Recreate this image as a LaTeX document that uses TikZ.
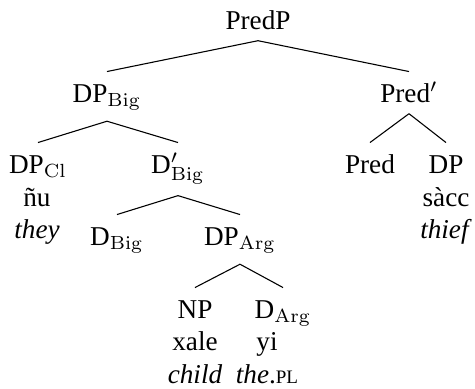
\documentclass[tikz,border=0pt]{standalone}
\usepackage[no-math]{fontspec}
\setmainfont{Liberation Serif}
\newcommand{\glosssc}[1]{{\fontsize{7}{8}\selectfont #1}}
\tikzset{
  cat/.style={anchor=base, inner sep=4pt, text height=7pt},
  word/.style={anchor=base, inner sep=0pt},
}
\begin{document}
\begin{tikzpicture}[x=0.3676pt, y=-0.3676pt]
  \useasboundingbox (0,0) rectangle (475,388);

  % categories
  \node[cat] (PredP) at (258,29) {PredP};
  \node[cat] (DPBig) at (107,102) {DP$_{\mathrm{Big}}$};
  \node[cat] (Predbar) at (409,102) {Pred$'$};

  \node[cat] (DPCl) at (38,173) {DP$_{\mathrm{Cl}}$};
  \node[cat] (DbarBig) at (178,173) {D$'_{\mathrm{Big}}$};
  \node[cat] (Pred) at (370,173) {Pred};
  \node[cat] (DP) at (446,173) {DP};

  \node[cat] (DBig) at (117,245) {D$_{\mathrm{Big}}$};
  \node[cat] (DPArg) at (240,245) {DP$_{\mathrm{Arg}}$};

  \node[cat] (NP) at (195,318) {NP};
  \node[cat] (DArg) at (283,318) {D$_{\mathrm{Arg}}$};

  % words and glosses
  \node[word] (nu) at (37,206) {ñu};
  \node[word] (they) at (37,238) {\textit{they}};
  \node[word] (sacc) at (446,206) {sàcc};
  \node[word] (thief) at (446,238) {\textit{thief}};
  \node[word] (xale) at (195,350.5) {xale};
  \node[word] (child) at (195,383) {\textit{child}};
  \node[word] (yi) at (267,350.5) {yi};
  \node[word] (thepl) at (267,383) {\textit{the}.\glosssc{PL}};

  % branches
  \draw (PredP.south) -- (DPBig.north);
  \draw (PredP.south) -- (Predbar.north);
  \draw (DPBig.south) -- (DPCl.north);
  \draw (DPBig.south) -- (DbarBig.north);
  \draw (Predbar.south) -- (Pred.north);
  \draw (Predbar.south) -- (DP.north);
  \draw (DbarBig.south) -- (DBig.north);
  \draw (DbarBig.south) -- (DPArg.north);
  \draw (DPArg.south) -- (NP.north);
  \draw (DPArg.south) -- (DArg.north);
\end{tikzpicture}
\end{document}
